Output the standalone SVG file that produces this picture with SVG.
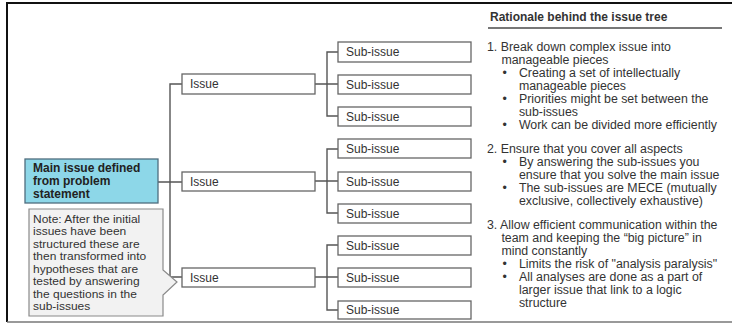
<svg xmlns="http://www.w3.org/2000/svg" width="732" height="323" viewBox="0 0 732 323">
  <style>
    .frame { stroke: #111; stroke-width: 2; fill: none; }
    .box { fill: #fff; stroke: #666; stroke-width: 1.3; }
    .main { fill: #8dd7e8; stroke: #4f6d7e; stroke-width: 1.3; }
    .note { fill: #f2f2f2; stroke: #8a8a8a; stroke-width: 1.2; }
    .lbl { font-family: "Liberation Sans", Arial, sans-serif; font-size: 12px; fill: #333; }
    .small { font-size: 11px; }
    .bold { font-weight: bold; fill: #222; }
    .conn { stroke: #555; stroke-width: 1.4; fill: none; }
    .rt { font-family: "Liberation Sans", Arial, sans-serif; font-size: 12px; fill: #333; }
  </style>

  <!-- outer frame -->
  <path class="frame" d="M732,3 H7 V322"/>
  <line x1="7" y1="322" x2="732" y2="322" stroke="#777" stroke-width="1.5"/>

  <!-- connectors -->
  <g id="connectors">
    <path class="conn" d="M158,182 H170 M182,84 H170 V277 H182 M170,182 H182"/>
    <path class="conn" d="M315,84 H327 M338,52 H327 V116 H338 M327,84 H338"/>
    <path class="conn" d="M315,181 H327 M338,149 H327 V213 H338 M327,181 H338"/>
    <path class="conn" d="M315,277 H327 M338,245 H327 V310 H338 M327,277 H338"/>
  </g>

  <!-- root -->
  <g id="main-issue">
    <rect class="main" x="25" y="159" width="133" height="44"/>
    <text class="lbl bold" x="33" y="172">Main issue defined</text>
    <text class="lbl bold" x="33" y="185">from problem</text>
    <text class="lbl bold" x="33" y="198">statement</text>
  </g>

  <!-- callout note -->
  <g id="note">
    <path class="note" d="M29,209 H163 V270 L177,282 L163,295 V316 H29 Z"/>
    <g transform="translate(33 0) scale(1.09 1)">
      <text class="lbl small" x="0" y="223">Note: After the initial</text>
      <text class="lbl small" x="0" y="235.4">issues have been</text>
      <text class="lbl small" x="0" y="247.9">structured these are</text>
      <text class="lbl small" x="0" y="260.3">then transformed into</text>
      <text class="lbl small" x="0" y="272.7">hypotheses that are</text>
      <text class="lbl small" x="0" y="285.1">tested by answering</text>
      <text class="lbl small" x="0" y="297.6">the questions in the</text>
      <text class="lbl small" x="0" y="310">sub-issues</text>
    </g>
  </g>

  <!-- first level -->
  <g id="issue-1"><rect class="box" x="182" y="74" width="133" height="20"/><text class="lbl" x="190" y="88">Issue</text></g>
  <g id="issue-2"><rect class="box" x="182" y="172" width="133" height="19"/><text class="lbl" x="190" y="185.5">Issue</text></g>
  <g id="issue-3"><rect class="box" x="182" y="268" width="133" height="19"/><text class="lbl" x="190" y="281.5">Issue</text></g>

  <!-- second level -->
  <g id="sub-1"><rect class="box" x="338" y="42" width="133" height="20"/><text class="lbl" x="346" y="56">Sub-issue</text></g>
  <g id="sub-2"><rect class="box" x="338" y="75" width="133" height="19"/><text class="lbl" x="346" y="88.5">Sub-issue</text></g>
  <g id="sub-3"><rect class="box" x="338" y="107" width="133" height="19"/><text class="lbl" x="346" y="120.5">Sub-issue</text></g>
  <g id="sub-4"><rect class="box" x="338" y="139" width="133" height="19"/><text class="lbl" x="346" y="152.5">Sub-issue</text></g>
  <g id="sub-5"><rect class="box" x="338" y="172" width="133" height="19"/><text class="lbl" x="346" y="185.5">Sub-issue</text></g>
  <g id="sub-6"><rect class="box" x="338" y="204" width="133" height="19"/><text class="lbl" x="346" y="217.5">Sub-issue</text></g>
  <g id="sub-7"><rect class="box" x="338" y="236" width="133" height="19"/><text class="lbl" x="346" y="249.5">Sub-issue</text></g>
  <g id="sub-8"><rect class="box" x="338" y="268" width="133" height="19"/><text class="lbl" x="346" y="281.5">Sub-issue</text></g>
  <g id="sub-9"><rect class="box" x="338" y="301" width="133" height="18"/><text class="lbl" x="346" y="314">Sub-issue</text></g>

  <!-- rationale panel -->
  <g id="rationale">
    <text class="rt bold" x="490" y="21">Rationale behind the issue tree</text>
    <line x1="488" y1="28" x2="722" y2="28" stroke="#777" stroke-width="2"/>

    <g transform="translate(487 0) scale(1.03 1)">
      <text class="rt" x="0" y="51">1. Break down complex issue into</text>
      <text class="rt" x="14" y="64">manageable pieces</text>
      <text class="rt" x="15" y="77">•</text><text class="rt" x="31" y="77">Creating a set of intellectually</text>
      <text class="rt" x="31" y="90">manageable pieces</text>
      <text class="rt" x="15" y="103">•</text><text class="rt" x="31" y="103">Priorities might be set between the</text>
      <text class="rt" x="31" y="116">sub-issues</text>
      <text class="rt" x="15" y="129">•</text><text class="rt" x="31" y="129">Work can be divided more efficiently</text>

      <text class="rt" x="0" y="153">2. Ensure that you cover all aspects</text>
      <text class="rt" x="15" y="166">•</text><text class="rt" x="31" y="166">By answering the sub-issues you</text>
      <text class="rt" x="31" y="179">ensure that you solve the main issue</text>
      <text class="rt" x="15" y="192">•</text><text class="rt" x="31" y="192">The sub-issues are MECE (mutually</text>
      <text class="rt" x="31" y="205">exclusive, collectively exhaustive)</text>

      <text class="rt" x="0" y="229">3. Allow efficient communication within the</text>
      <text class="rt" x="14" y="242">team and keeping the “big picture”  in</text>
      <text class="rt" x="14" y="255">mind constantly</text>
      <text class="rt" x="15" y="268">•</text><text class="rt" x="31" y="268">Limits the risk of "analysis paralysis"</text>
      <text class="rt" x="15" y="281">•</text><text class="rt" x="31" y="281">All analyses are done as a part of</text>
      <text class="rt" x="31" y="294">larger issue that link to a logic</text>
      <text class="rt" x="31" y="307">structure</text>
    </g>
  </g>
</svg>
